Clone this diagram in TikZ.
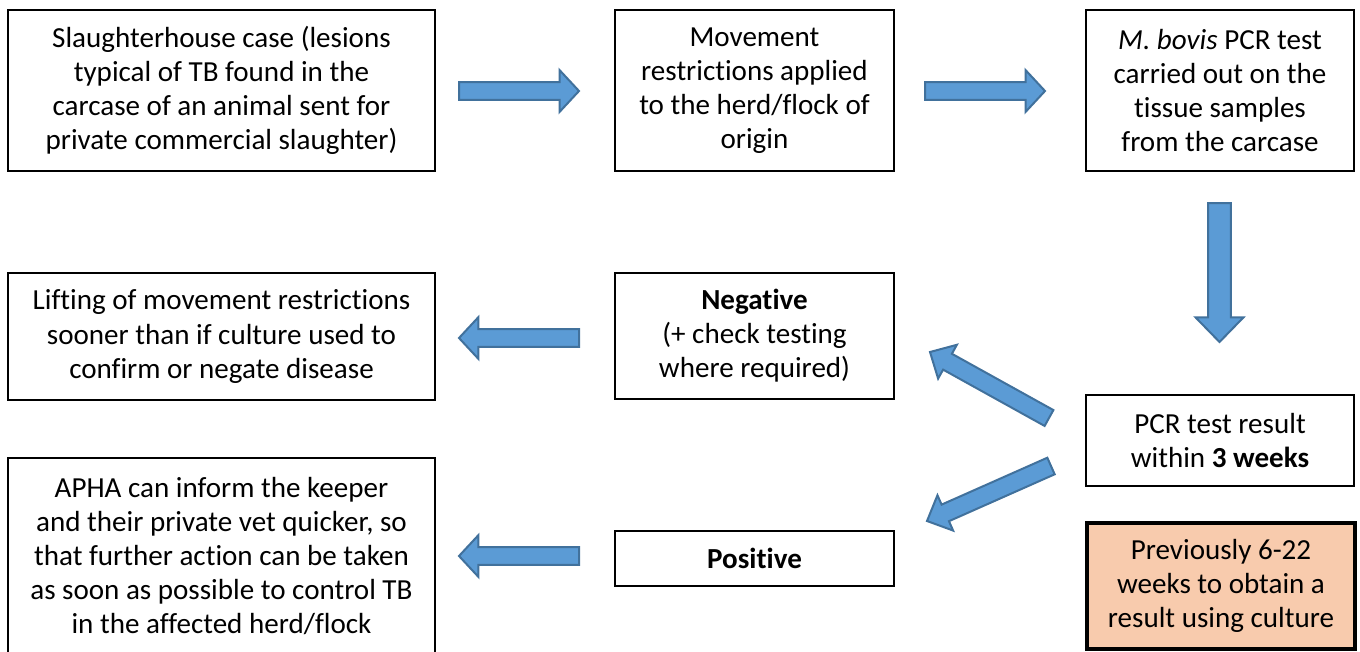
\documentclass[tikz,border=0pt]{standalone}
\usepackage{fontspec}
\setmainfont{Carlito}[Ligatures=CommonOff]
\usetikzlibrary{calc}
\definecolor{arrfill}{HTML}{5B9BD5}
\definecolor{arrdraw}{HTML}{41719C}
\definecolor{peach}{HTML}{F8CBAD}
% #1 from, #2 to, #3 shaft half width, #4 head half width, #5 head length
\newcommand{\blockarrow}[5]{%
  \path ($(#2)!#5!(#1)$) coordinate (hb);
  \filldraw[blockarr] ($(#1)!#3!90:(#2)$) -- ($(hb)!#3!90:(#2)$) -- ($(hb)!#4!90:(#2)$)
    -- (#2) -- ($(hb)!#4!-90:(#2)$) -- ($(hb)!#3!-90:(#2)$) -- ($(#1)!#3!-90:(#2)$) -- cycle;
}
\tikzset{
  box/.style={draw=black, line width=1.1pt, fill=white, align=center, inner sep=0pt,
    font=\fontsize{21.8}{25.6}\selectfont},
  blockarr/.style={fill=arrfill, draw=arrdraw, line width=1.5pt, line join=miter},
}
\begin{document}
\begin{tikzpicture}[x=0.75pt, y=-0.75pt]
\path[use as bounding box] (0,0) rectangle (1360,651);
\clip (0,0) rectangle (1360,651);
\fill[white] (0,0) rectangle (1360,651);

% boxes
\node[box, minimum width=320.25pt, minimum height=120.75pt] (b1) at (221.5,90.5)
  {Slaughterhouse case (lesions\\typical of TB found in the\\carcase of an animal sent for\\private commercial slaughter)};
\node[box, minimum width=209.25pt, minimum height=120.75pt] (b2) at (754.5,90.5)
  {Movement\\restrictions applied\\to the herd/flock of\\origin};
\node[box, minimum width=201pt, minimum height=120.75pt] (b3) at (1220,90.5)
  {\textit{M. bovis} PCR test\\carried out on the\\tissue samples\\from the carcase};
\node[box, minimum width=320.25pt, minimum height=95.25pt] (b4) at (221.5,336.5)
  {Lifting of movement restrictions\\sooner than if culture used to\\confirm or negate disease};
\node[box, minimum width=209.25pt, minimum height=94.5pt] (b5) at (754.5,336)
  {\textbf{Negative}\\(+ check testing\\where required)};
\node[box, minimum width=201pt, minimum height=68.25pt] (b6) at (1220,440.5)
  {PCR test result\\within \textbf{3 weeks}};
\node[box, minimum width=320.25pt, minimum height=147pt] (b7) at (221.5,556)
  {APHA can inform the keeper\\and their private vet quicker, so\\that further action can be taken\\as soon as possible to control TB\\in the affected herd/flock};
\node[box, minimum width=209.25pt, minimum height=41.25pt] (b8) at (754.5,558.5)
  {\textbf{Positive}};
\node[box, fill=peach, line width=2.4pt, minimum width=201pt, minimum height=94.5pt] (b9) at (1221,586)
  {Previously 6-22\\weeks to obtain a\\result using culture};

% arrow end points
\coordinate (a1s) at (459,91);   \coordinate (a1e) at (579,91);
\coordinate (a2s) at (925,91);   \coordinate (a2e) at (1045,91);
\coordinate (a3s) at (1219.5,203); \coordinate (a3e) at (1219.5,342);
\coordinate (a4s) at (579,338);  \coordinate (a4e) at (459,338);
\coordinate (a5s) at (579,556);  \coordinate (a5e) at (459,556);
\coordinate (a6s) at (1049,418); \coordinate (a6e) at (930,352);
\coordinate (a7s) at (1051,466); \coordinate (a7e) at (927,521);

\blockarrow{a1s}{a1e}{6.6pt}{15.6pt}{14.5pt}
\blockarrow{a2s}{a2e}{6.6pt}{15.6pt}{14.5pt}
\blockarrow{a3s}{a3e}{8.6pt}{18pt}{18.5pt}
\blockarrow{a4s}{a4e}{6.6pt}{15.6pt}{14.5pt}
\blockarrow{a5s}{a5e}{6.6pt}{15.6pt}{14.5pt}
\blockarrow{a6s}{a6e}{6.8pt}{14.5pt}{15pt}
\blockarrow{a7s}{a7e}{6.8pt}{14.5pt}{15pt}
\end{tikzpicture}
\end{document}
